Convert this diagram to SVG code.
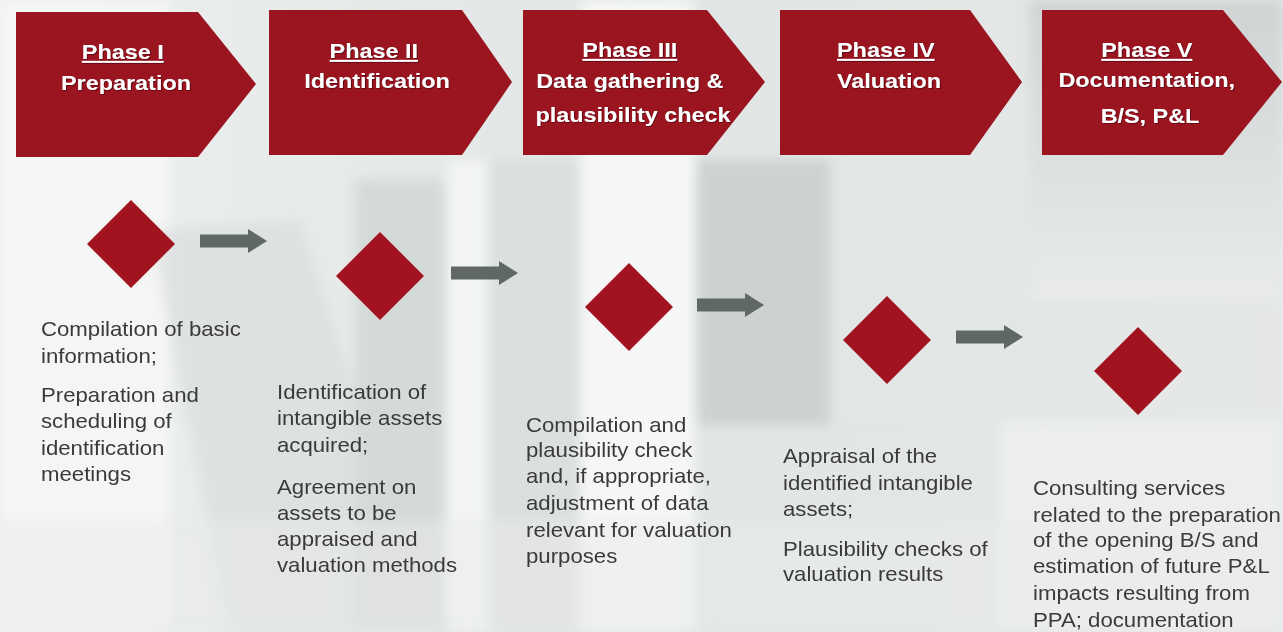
<svg xmlns="http://www.w3.org/2000/svg" xmlns:xlink="http://www.w3.org/1999/xlink" width="1283" height="632" viewBox="0 0 1283 632">
  <style>
    .chev { fill: #9b1520; }
    .dia { fill: #a0131f; }
    .conn { fill: #5f6866; }
    .title { font-family: "Liberation Sans", Arial, sans-serif; font-size: 20px; font-weight: bold; fill: #ffffff; text-anchor: middle; }
    .title .u { text-decoration: underline; }
    .body { font-family: "Liberation Sans", Arial, sans-serif; font-size: 20px; fill: #3a3a3a; }
  </style>
  <defs>
    <filter id="soft" x="-20%" y="-20%" width="140%" height="140%">
      <feGaussianBlur stdDeviation="6"/>
    </filter>
    <filter id="halo" x="-10%" y="-10%" width="120%" height="120%">
      <feDropShadow dx="0.8" dy="0.8" stdDeviation="0.6" flood-color="#4a0008" flood-opacity="0.8"/>
    </filter>
    <linearGradient id="bg" x1="0" y1="0" x2="1" y2="0">
      <stop offset="0" stop-color="#eef0f0"/>
      <stop offset="0.5" stop-color="#e2e5e5"/>
      <stop offset="1" stop-color="#e6e8e8"/>
    </linearGradient>
    <linearGradient id="rightTop" x1="0" y1="0" x2="0" y2="1">
      <stop offset="0" stop-color="#cfd3d3"/>
      <stop offset="1" stop-color="#e9ebeb"/>
    </linearGradient>
    <!-- node marker shape, centred on the origin -->
    <polygon id="diamond" points="0,-44 44,0 0,44 -44,0"/>
    <!-- block arrow, tail at the origin -->
    <polygon id="blockArrow" points="0,-6.5 48,-6.5 48,-12 67,0 48,12 48,6.5 0,6.5"/>
  </defs>

  <!-- background: soft architectural photo -->
  <g id="background">
    <rect width="1283" height="632" fill="url(#bg)"/>
    <g filter="url(#soft)">
      <rect x="0" y="0" width="170" height="632" fill="#f4f5f5"/>
      <polygon points="150,230 300,220 430,632 230,632" fill="#d7dada" opacity="0.6"/>
      <rect x="355" y="180" width="90" height="452" fill="#d6d9d9"/>
      <rect x="447" y="160" width="40" height="472" fill="#f3f4f4"/>
      <rect x="490" y="160" width="90" height="472" fill="#dcdfdf"/>
      <rect x="580" y="0" width="115" height="632" fill="#f5f6f6"/>
      <rect x="697" y="160" width="133" height="265" fill="#cdd1d1"/>
      <rect x="830" y="160" width="200" height="260" fill="#e3e6e6"/>
      <rect x="1030" y="0" width="253" height="300" fill="url(#rightTop)"/>
      <rect x="1000" y="420" width="283" height="212" fill="#eceeee"/>
      <rect x="0" y="520" width="1283" height="112" fill="#e9ebeb" opacity="0.5"/>
    </g>
  </g>

  <!-- phase headers -->
  <g id="phase1">
    <polygon class="chev" points="16,12 198,12 256,84 198,157 16,157"/>
    <text class="title" transform="translate(126,0) scale(1.17,1)" filter="url(#halo)">
      <tspan class="u" x="0" y="59">Phase I</tspan>
      <tspan x="0" y="90">Preparation</tspan>
    </text>
  </g>
  <g id="phase2">
    <polygon class="chev" points="269,10 462,10 512,82 462,155 269,155"/>
    <text class="title" transform="translate(377,0) scale(1.17,1)" filter="url(#halo)">
      <tspan class="u" x="0" y="58">Phase II</tspan>
      <tspan x="0" y="88">Identification</tspan>
    </text>
  </g>
  <g id="phase3">
    <polygon class="chev" points="523,10 707,10 765,82 707,155 523,155"/>
    <text class="title" transform="translate(633,0) scale(1.17,1)" filter="url(#halo)">
      <tspan class="u" x="0" y="57">Phase III</tspan>
      <tspan x="0" y="88">Data gathering &amp;</tspan>
      <tspan x="0" y="122">plausibility check</tspan>
    </text>
  </g>
  <g id="phase4">
    <polygon class="chev" points="780,10 970,10 1022,82 970,155 780,155"/>
    <text class="title" transform="translate(889,0) scale(1.17,1)" filter="url(#halo)">
      <tspan class="u" x="0" y="57">Phase IV</tspan>
      <tspan x="0" y="88">Valuation</tspan>
    </text>
  </g>
  <g id="phase5">
    <polygon class="chev" points="1042,10 1223,10 1282,82 1223,155 1042,155"/>
    <text class="title" transform="translate(1150,0) scale(1.17,1)" filter="url(#halo)">
      <tspan class="u" x="0" y="57">Phase V</tspan>
      <tspan x="0" y="87">Documentation,</tspan>
      <tspan x="0" y="123">B/S, P&amp;L</tspan>
    </text>
  </g>

  <!-- step markers with their descriptions -->
  <g id="step1">
    <use xlink:href="#diamond" href="#diamond" class="dia" transform="translate(131,244)"/>
    <text class="body" transform="translate(41,0) scale(1.11,1)">
      <tspan x="0" y="336">Compilation of basic</tspan>
      <tspan x="0" y="363">information;</tspan>
      <tspan x="0" y="402">Preparation and</tspan>
      <tspan x="0" y="428">scheduling of</tspan>
      <tspan x="0" y="455">identification</tspan>
      <tspan x="0" y="481">meetings</tspan>
    </text>
  </g>
  <g id="step2">
    <use xlink:href="#diamond" href="#diamond" class="dia" transform="translate(380,276)"/>
    <text class="body" transform="translate(277,0) scale(1.11,1)">
      <tspan x="0" y="399">Identification of</tspan>
      <tspan x="0" y="425">intangible assets</tspan>
      <tspan x="0" y="452">acquired;</tspan>
      <tspan x="0" y="494">Agreement on</tspan>
      <tspan x="0" y="520">assets to be</tspan>
      <tspan x="0" y="546">appraised and</tspan>
      <tspan x="0" y="572">valuation methods</tspan>
    </text>
  </g>
  <g id="step3">
    <use xlink:href="#diamond" href="#diamond" class="dia" transform="translate(629,307)"/>
    <text class="body" transform="translate(526,0) scale(1.11,1)">
      <tspan x="0" y="432">Compilation and</tspan>
      <tspan x="0" y="457">plausibility check</tspan>
      <tspan x="0" y="483">and, if appropriate,</tspan>
      <tspan x="0" y="510">adjustment of data</tspan>
      <tspan x="0" y="537">relevant for valuation</tspan>
      <tspan x="0" y="563">purposes</tspan>
    </text>
  </g>
  <g id="step4">
    <use xlink:href="#diamond" href="#diamond" class="dia" transform="translate(887,340)"/>
    <text class="body" transform="translate(783,0) scale(1.11,1)">
      <tspan x="0" y="463">Appraisal of the</tspan>
      <tspan x="0" y="490">identified intangible</tspan>
      <tspan x="0" y="516">assets;</tspan>
      <tspan x="0" y="556">Plausibility checks of</tspan>
      <tspan x="0" y="581">valuation results</tspan>
    </text>
  </g>
  <g id="step5">
    <use xlink:href="#diamond" href="#diamond" class="dia" transform="translate(1138,371)"/>
    <text class="body" transform="translate(1033,0) scale(1.11,1)">
      <tspan x="0" y="495">Consulting services</tspan>
      <tspan x="0" y="522">related to the preparation</tspan>
      <tspan x="0" y="547">of the opening B/S and</tspan>
      <tspan x="0" y="573">estimation of future P&amp;L</tspan>
      <tspan x="0" y="600">impacts resulting from</tspan>
      <tspan x="0" y="627">PPA; documentation</tspan>
    </text>
  </g>

  <!-- connectors between steps -->
  <g id="connectors" class="conn">
    <use xlink:href="#blockArrow" href="#blockArrow" transform="translate(200,241)"/>
    <use xlink:href="#blockArrow" href="#blockArrow" transform="translate(451,273)"/>
    <use xlink:href="#blockArrow" href="#blockArrow" transform="translate(697,305)"/>
    <use xlink:href="#blockArrow" href="#blockArrow" transform="translate(956,337)"/>
  </g>
</svg>
